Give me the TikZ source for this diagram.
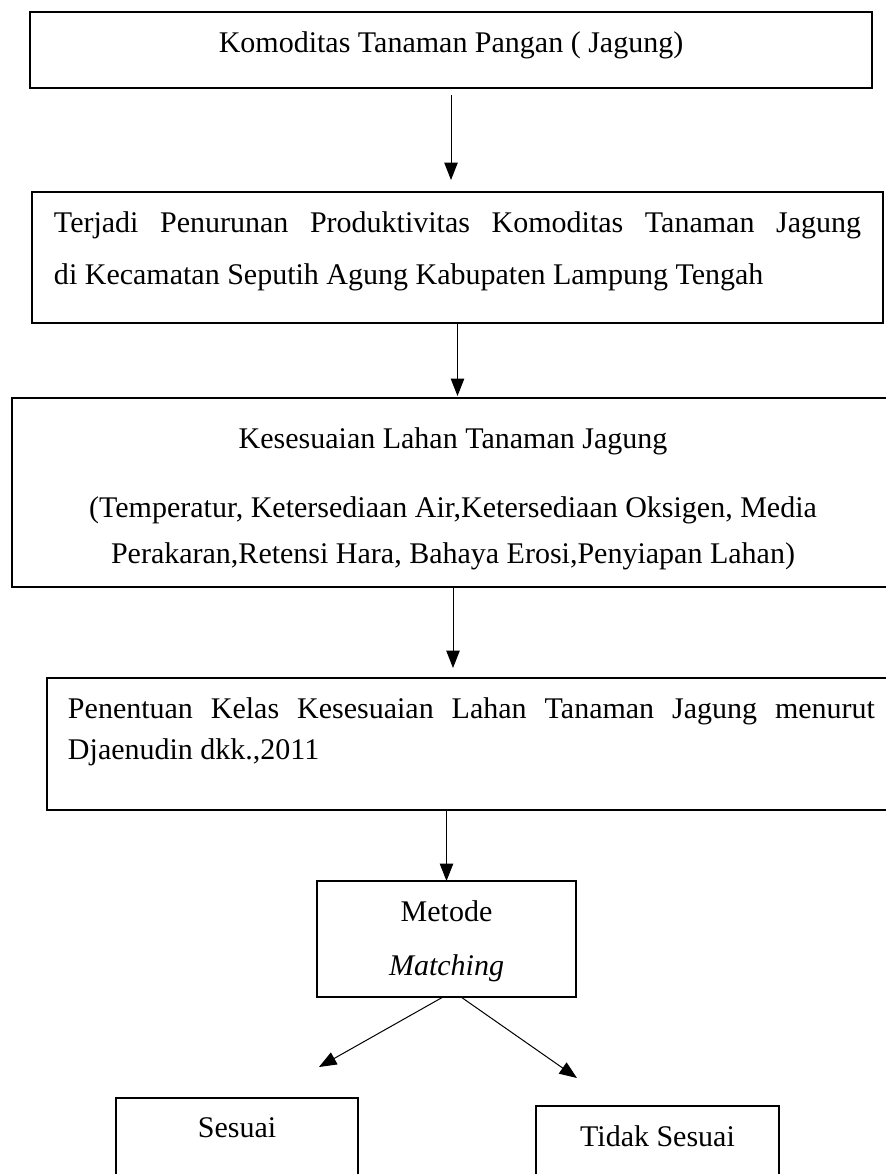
\documentclass[tikz,border=0pt]{standalone}
\usepackage{fontspec}
\setmainfont{Liberation Serif}
\usetikzlibrary{arrows.meta,positioning,calc}
\definecolor{ink}{HTML}{000000}
\tikzset{
  box/.style     = {rectangle, draw=ink, line width=0.8pt, outer sep=0pt, inner ysep=0pt,
                    text=ink, font=\fontsize{12}{14.4}\selectfont, anchor=north west},
  thinbox/.style = {box, line width=0.5pt, align=flush center, inner xsep=0pt},
  fl/.style      = {-{Triangle[length=7pt,width=5.4pt]}, line width=0.4pt, draw=ink},
}
\begin{document}
\begin{tikzpicture}[x=0.4pt,y=-0.4pt]
\useasboundingbox (0,0) rectangle (886,1174);
\clip (0,0) rectangle (886,1174);
\node[box, minimum width=336.8pt, inner xsep=0pt, text height=16pt, text depth=14.4pt] (tanaman) at (30,12) {Komoditas Tanaman Pangan ( Jagung)};
\node[box, text width=322.8pt, inner xsep=8.8pt, align=justify, font=\fontsize{12}{20.8}\selectfont,
      text height=16pt, text depth=36.4pt] (turun) at (32,192)
      {Terjadi Penurunan Produktivitas Komoditas Tanaman Jagung\linebreak di Kecamatan Seputih Agung Kabupaten Lampung Tengah};
\node[box, text width=352.8pt, inner xsep=0pt, align=flush center, font=\fontsize{12}{18.4}\selectfont,
      text height=20pt, text depth=55.6pt] (lahan) at (12,398)
      {Kesesuaian Lahan Tanaman Jagung\\[9.2pt] (Temperatur, Ketersediaan Air,Ketersediaan Oksigen, Media\\ Perakaran,Retensi Hara, Bahaya Erosi,Penyiapan Lahan)};
\node[box, text width=322.8pt, inner xsep=8.4pt, align=justify, font=\fontsize{12}{16.4}\selectfont,
      text height=16pt, text depth=36.8pt] (kelas) at (47,678)
      {Penentuan Kelas Kesesuaian Lahan Tanaman Jagung menurut\linebreak Djaenudin dkk.,2011};
\node[thinbox, text width=103.6pt, font=\fontsize{12}{21.6}\selectfont, text height=16pt, text depth=30.4pt] (metode) at (317,881) {Metode\\\textit{Matching}};
\node[thinbox, minimum width=96.8pt, text height=15.6pt, text depth=25.2pt] (sesuai) at (116,1098) {Sesuai};
\node[thinbox, minimum width=97.2pt, text height=16pt, text depth=25.6pt] (tidak) at (536,1106) {Tidak Sesuai};
\coordinate (kiri) at (319,1067);
\coordinate (kanan) at (577,1078);
\draw[fl, shorten <=2.8pt, shorten >=4.8pt] (tanaman.south) -- (tanaman.south |- turun.north);
\draw[fl, shorten >=0.8pt] (turun.south) -- (turun.south |- lahan.north);
\draw[fl, shorten >=4pt] (lahan.south) -- (lahan.south |- kelas.north);
\draw[fl] (metode.north |- kelas.south) -- (metode.north);
\draw[fl] ([xshift=-1.4pt]metode.south) -- (kiri);
\draw[fl] ([xshift=5.8pt]metode.south) -- (kanan);
\end{tikzpicture}
\end{document}
